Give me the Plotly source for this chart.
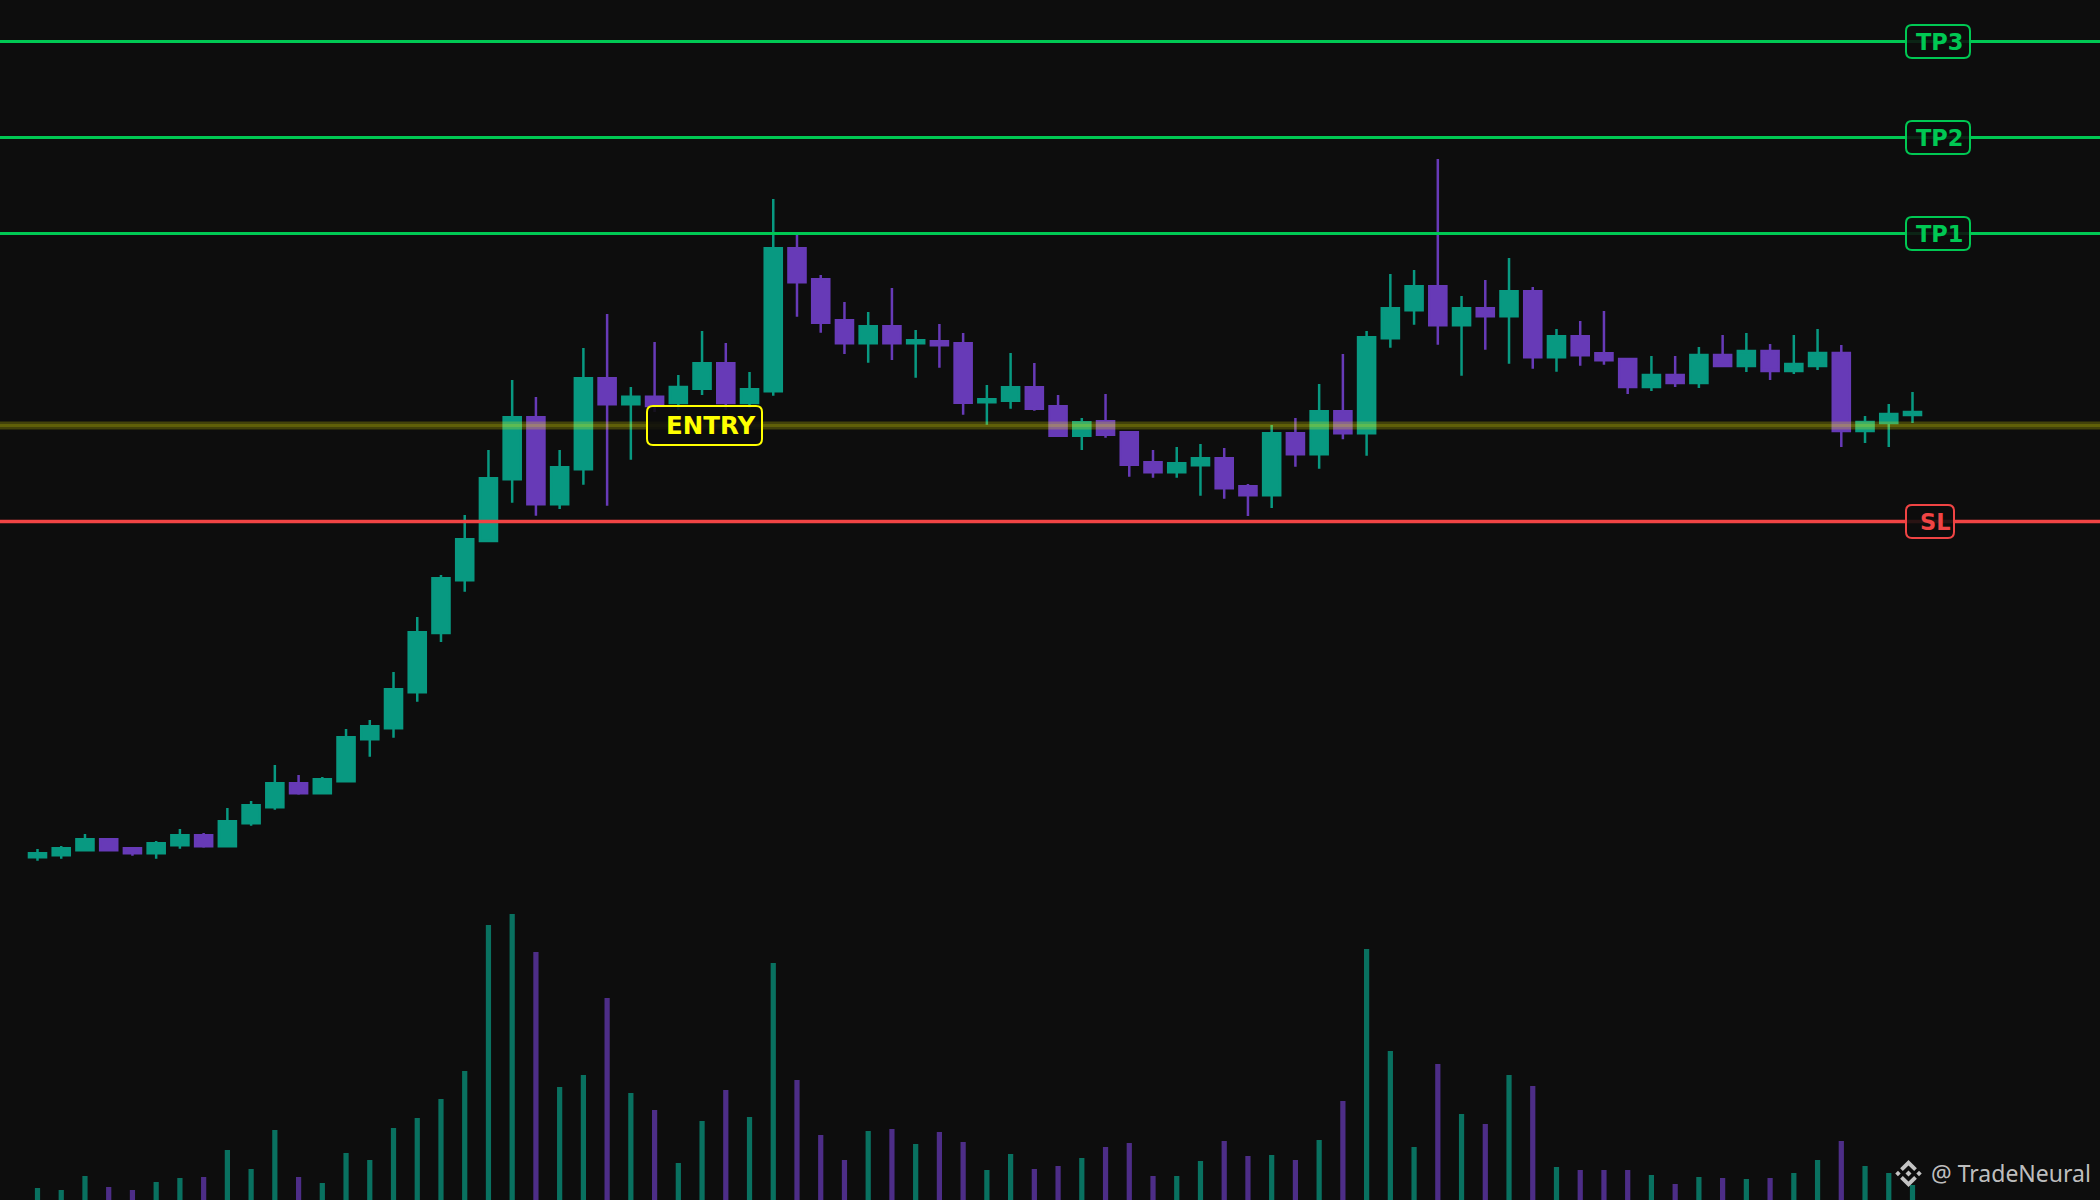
import plotly.graph_objects as go

# ---------------- data ----------------
opens = [39.23, 39.43, 39.93, 41.03, 40.13, 39.63, 40.43, 41.43, 40.33, 42.63,
         44.23, 46.63, 45.63, 46.83, 51.03, 52.13, 55.73, 61.66, 66.93, 70.86,
         77.03, 83.23, 74.53, 78.03, 87.13, 84.53, 85.29, 84.66, 86.09, 88.63,
         84.66, 85.83, 100.13, 97.03, 92.93, 90.63, 92.33, 90.63, 90.83, 90.63,
         84.73, 84.89, 86.23, 84.33, 81.39, 82.83, 81.73, 78.73, 77.73, 78.43,
         79.13, 76.33, 75.43, 81.63, 79.53, 83.83, 81.63, 91.13, 93.93, 96.33,
         92.43, 94.13, 93.33, 95.83, 89.23, 91.33, 89.63, 89.06, 86.26, 87.46,
         86.66, 89.46, 88.36, 89.86, 87.86, 88.36, 89.66, 81.86, 82.66, 83.46]

highs = [40.06, 40.36, 41.56, 41.10, 40.26, 40.86, 42.06, 41.66, 44.16, 44.86,
         48.46, 47.46, 47.26, 52.06, 52.96, 57.76, 63.26, 67.46, 73.46, 79.96,
         86.96, 85.26, 79.96, 90.16, 93.56, 86.26, 90.76, 87.46, 91.86, 90.66,
         87.76, 105.06, 101.46, 97.46, 94.76, 93.76, 96.16, 91.96, 92.56, 91.66,
         86.46, 89.66, 88.66, 85.46, 83.16, 85.56, 81.86, 79.96, 80.26, 80.56,
         80.16, 76.56, 82.46, 83.16, 86.56, 89.56, 91.86, 97.56, 97.96, 109.06,
         95.36, 96.96, 99.16, 96.26, 92.06, 92.86, 93.86, 89.16, 89.36, 89.36,
         90.26, 91.46, 91.66, 90.56, 91.46, 92.06, 90.46, 83.36, 84.56, 85.76]

lows = [38.89, 39.09, 39.93, 39.90, 39.39, 39.09, 40.09, 40.19, 40.33, 42.39,
        43.99, 45.49, 45.63, 46.83, 49.29, 51.19, 54.79, 60.76, 65.79, 70.86,
        74.69, 73.39, 74.06, 76.49, 74.39, 78.99, 83.76, 83.96, 85.46, 83.96,
        84.16, 85.39, 93.29, 91.69, 89.56, 88.69, 88.96, 87.19, 88.19, 83.49,
        82.49, 84.09, 83.89, 81.29, 79.96, 81.19, 77.29, 77.19, 77.19, 75.39,
        75.09, 73.36, 74.16, 78.29, 78.09, 81.03, 79.39, 90.19, 92.49, 90.49,
        87.39, 89.99, 88.59, 88.09, 87.79, 88.39, 88.49, 85.56, 85.86, 86.26,
        86.16, 88.26, 87.76, 86.96, 87.56, 87.96, 80.26, 80.66, 80.26, 82.66]

closes = [39.63, 40.13, 41.03, 39.93, 39.63, 40.63, 41.43, 40.33, 42.83, 44.43,
          46.63, 45.63, 47.03, 51.23, 52.33, 56.03, 61.73, 67.13, 71.03, 77.13,
          83.23, 74.53, 78.23, 87.13, 84.53, 85.29, 84.36, 86.26, 88.63, 84.66,
          86.03, 100.13, 96.73, 92.69, 90.63, 92.33, 90.63, 90.93, 90.43, 84.69,
          85.03, 86.23, 84.09, 81.39, 82.73, 81.49, 78.49, 77.73, 78.63, 79.13,
          76.13, 75.43, 81.63, 79.53, 83.83, 81.63, 91.23, 94.13, 96.33, 92.43,
          94.13, 93.33, 95.83, 89.23, 91.33, 89.43, 88.93, 86.26, 87.46, 86.66,
          89.46, 88.36, 89.86, 87.86, 88.56, 89.66, 81.86, 82.76, 83.56, 83.76]

# volume in thousands
volume = [12, 10, 24, 13, 10, 18, 22, 23, 50, 31,
          70, 23, 17, 47, 40, 72, 82, 101, 129, 275,
          286, 248, 113, 125, 202, 107, 90, 37, 79, 110,
          83, 237, 120, 65, 40, 69, 71, 56, 68, 58,
          30, 46, 31, 34, 42, 53, 57, 24, 24, 39,
          59, 44, 45, 40, 60, 99, 251, 149, 53, 136,
          86, 76, 125, 114, 33, 30, 30, 30, 25, 16,
          23, 22, 21, 22, 27, 40, 59, 34, 27, 15]

level_names = ["TP3", "TP2", "TP1", "ENTRY", "SL"]
level_prices = [120.8, 111.2, 101.6, 82.4, 72.8]

watermark = "@ TradeNeural"

# ---------------- styling ----------------
W, H = 2100, 1200
BG = "#0d0d0d"
UP = "#089981"
DOWN = "#673ab7"
UP_VOL = "rgba(8,153,129,0.72)"
DOWN_VOL = "rgba(103,58,183,0.72)"
GREEN = "#00c853"
RED = "#f04444"
YELLOW = "#ffff00"

PRICE_RANGE = [4.96, 124.96]
VOL_RANGE = [0, 1200]
X_RANGE = [-1.58, 86.90]
ppx = (PRICE_RANGE[1] - PRICE_RANGE[0]) / H  # price per pixel

x = list(range(len(opens)))
vol_colors = [UP_VOL if c >= o else DOWN_VOL for o, c in zip(opens, closes)]

fig = go.Figure()
fig.add_trace(go.Bar(
    x=x, y=volume, yaxis="y2", width=0.22,
    marker=dict(color=vol_colors, line=dict(width=0)),
    hoverinfo="skip", showlegend=False))
fig.add_trace(go.Candlestick(
    x=x, open=opens, high=highs, low=lows, close=closes,
    increasing=dict(line=dict(color=UP, width=2.5), fillcolor=UP),
    decreasing=dict(line=dict(color=DOWN, width=2.5), fillcolor=DOWN),
    whiskerwidth=0, hoverinfo="skip", showlegend=False))


def rrect(px0, px1, pc, half_px, r_px):
    """rounded rectangle: x in paper (from pixel), y in price around pc"""
    x0, x1 = px0 / W, px1 / W
    y0, y1 = pc - half_px * ppx, pc + half_px * ppx
    rx, ry = r_px / W, r_px * ppx
    return (f"M{x0+rx},{y1} L{x1-rx},{y1} Q{x1},{y1} {x1},{y1-ry} "
            f"L{x1},{y0+ry} Q{x1},{y0} {x1-rx},{y0} L{x0+rx},{y0} "
            f"Q{x0},{y0} {x0},{y0+ry} L{x0},{y1-ry} Q{x0},{y1} {x0+rx},{y1} Z")


shapes = []
annotations = []
label_cfg = {
    "TP3": dict(color=GREEN, box=(1906, 1970), half=16.5, tx=1940, size=22.5),
    "TP2": dict(color=GREEN, box=(1906, 1970), half=16.5, tx=1940, size=22.5),
    "TP1": dict(color=GREEN, box=(1906, 1970), half=16.5, tx=1940, size=22.5),
    "ENTRY": dict(color=YELLOW, box=(647, 762), half=19.5, tx=710, size=24.5),
    "SL": dict(color=RED, box=(1906, 1954), half=16.5, tx=1935, size=22.5),
}

for name, price in zip(level_names, level_prices):
    cfg = label_cfg[name]
    if name == "ENTRY":
        shapes.append(dict(type="line", xref="paper", yref="y", x0=0, x1=1,
                           y0=price, y1=price, layer="above",
                           line=dict(color="rgba(255,255,0,0.22)", width=8)))
        shapes.append(dict(type="line", xref="paper", yref="y", x0=0, x1=1,
                           y0=price, y1=price, layer="above",
                           line=dict(color="rgba(255,255,0,0.16)", width=3)))
    else:
        shapes.append(dict(type="line", xref="paper", yref="y", x0=0, x1=1,
                           y0=price, y1=price, layer="above",
                           line=dict(color=cfg["color"], width=3 if name != "SL" else 3.5)))
    shapes.append(dict(type="path", xref="paper", yref="y", layer="above",
                       path=rrect(cfg["box"][0], cfg["box"][1], price, cfg["half"], 6),
                       fillcolor="rgba(13,13,13,0.88)",
                       line=dict(color=cfg["color"], width=2)))
    annotations.append(dict(xref="paper", yref="y", x=cfg["tx"] / W, y=price,
                            text=f"<b>{name}</b>", showarrow=False,
                            xanchor="center", yanchor="middle",
                            font=dict(family="DejaVu Sans", size=cfg["size"],
                                      color=cfg["color"])))

# watermark icon (diamond logo) in pixel space -> paper
cx, cy, s = 1908.5, 1173.5, 13.5


def P(u, v):
    return f"{(cx + u * s) / W},{1 - (cy + v * s) / H}"


def poly(pts):
    return "M" + " L".join(P(u, v) for u, v in pts) + " Z"


icon_paths = [
    poly([(0, -1), (0.62, -0.38), (0.42, -0.18), (0, -0.6), (-0.42, -0.18), (-0.62, -0.38)]),
    poly([(0, 1), (0.62, 0.38), (0.42, 0.18), (0, 0.6), (-0.42, 0.18), (-0.62, 0.38)]),
    poly([(0, -0.22), (0.22, 0), (0, 0.22), (-0.22, 0)]),
    poly([(-0.78, -0.2), (-0.58, 0), (-0.78, 0.2), (-0.98, 0)]),
    poly([(0.78, -0.2), (0.98, 0), (0.78, 0.2), (0.58, 0)]),
]
for pth in icon_paths:
    shapes.append(dict(type="path", xref="paper", yref="paper", path=pth,
                       fillcolor="rgba(215,215,215,0.9)", line=dict(width=0),
                       layer="above"))

annotations.append(dict(xref="paper", yref="paper", x=2093 / W, y=1 - 1173 / H,
                        text=watermark, showarrow=False, xanchor="right",
                        yanchor="middle",
                        font=dict(family="Noto Sans", size=23,
                                  color="rgba(215,215,215,0.9)")))

fig.update_layout(
    width=W, height=H, autosize=False,
    margin=dict(l=0, r=0, t=0, b=0),
    paper_bgcolor=BG, plot_bgcolor=BG,
    showlegend=False, boxgap=0.28, boxgroupgap=0,
    xaxis=dict(range=X_RANGE, visible=False, showgrid=False, zeroline=False,
               rangeslider=dict(visible=False), fixedrange=True),
    yaxis=dict(range=PRICE_RANGE, visible=False, showgrid=False, zeroline=False),
    yaxis2=dict(range=VOL_RANGE, overlaying="y", visible=False, showgrid=False,
                zeroline=False),
    shapes=shapes, annotations=annotations,
)

fig.write_html("out.html",
               config={"displayModeBar": False},
               post_script="document.body.style.margin='0';document.body.style.overflow='hidden';")
